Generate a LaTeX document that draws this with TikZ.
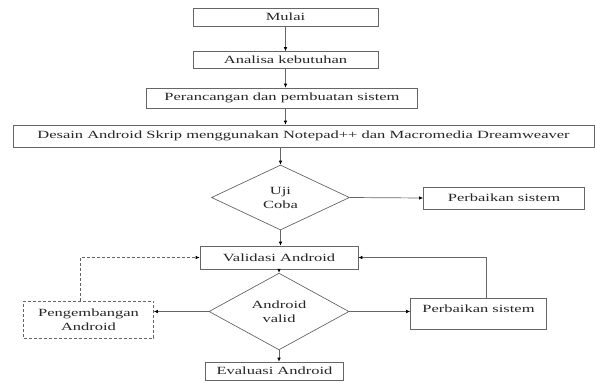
\documentclass[tikz,border=0pt]{standalone}
\usepackage{fontspec}
\setmainfont[FakeStretch=1.5]{Liberation Serif}
\usetikzlibrary{arrows.meta,shapes.geometric}
\begin{document}
\begin{tikzpicture}[x=1pt,y=-1pt,
  every node/.style={font=\fontsize{11}{14}\selectfont, text=black!85},
  box/.style={draw=black!60, line width=0.7pt, rectangle, inner sep=0pt, align=center},
  dec/.style={draw=black!60, line width=0.7pt, diamond, inner sep=0pt, align=center},
  arr/.style={draw=black!60, line width=0.7pt, -{Latex[length=4pt,width=3.6pt,black]}},
  dashbox/.style={box, dash pattern=on 3pt off 2pt}]
\useasboundingbox (0,0) rectangle (595,383);
\node[box, minimum width=185, minimum height=18] (mulai) at (285.5,17) {Mulai};
\node[box, minimum width=185, minimum height=17] (analisa) at (285.5,60) {Analisa kebutuhan};
\node[box, minimum width=271, minimum height=20] (peranc) at (282,98) {Perancangan dan pembuatan sistem};
\node[box, minimum width=581, minimum height=22] (desain) at (303.5,136) {Desain Android Skrip menggunakan Notepad++ dan Macromedia Dreamweaver};
\node[dec, minimum width=138, minimum height=65] (uji) at (280.5,197.5) {Uji\\Coba};
\node[box, minimum width=161, minimum height=22] (pbtop) at (504,198) {Perbaikan sistem};
\node[box, minimum width=158, minimum height=23] (valid) at (279,257.5) {Validasi Android};
\node[dec, minimum width=140, minimum height=66] (av) at (279,311.5) {Android\\valid};
\node[dashbox, minimum width=130, minimum height=37] (peng) at (88.5,319.5) {Pengembangan\\Android};
\node[box, minimum width=136, minimum height=31, text height=8pt, text depth=10pt] (pbr) at (478.5,313.5) {Perbaikan sistem};
\node[box, minimum width=138, minimum height=18] (eval) at (274.5,371) {Evaluasi Android};

\draw[arr] (mulai.south) -- (analisa.north);
\draw[arr] (analisa.south) -- (analisa.south |- peranc.north);
\draw[arr] (peranc.south -| analisa.south) -- (desain.north -| analisa.south);
\draw[arr] (desain.south -| uji.north) -- (uji.north);
\draw[arr] (uji.east) -- (pbtop.west);
\draw[arr] (uji.south) -- (uji.south |- valid.north);
\draw[arr] (valid.south) -- (av.north);
\draw[arr] (av.west) -- (av.west -| peng.east);
\draw[arr] (av.east) -- (av.east -| pbr.west);
\draw[arr] (av.south) -- (av.south |- eval.north);
\draw[arr] ([xshift=7.5pt]pbr.north) |- (valid.east);
\draw[arr, dash pattern=on 3pt off 2pt] ([xshift=-8.5pt]peng.north) |- (valid.west);
\end{tikzpicture}
\end{document}
